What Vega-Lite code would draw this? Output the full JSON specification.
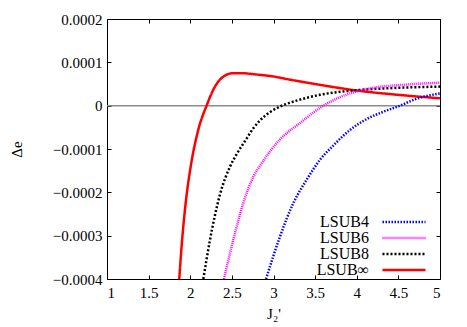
{
  "$schema": "https://vega.github.io/schema/vega-lite/v6.json",
  "width": 333,
  "height": 260,
  "autosize": {"type": "none"},
  "padding": {"left": 107, "top": 19, "right": 27, "bottom": 48},
  "background": "white",
  "config": {
    "font": "Liberation Serif",
    "view": {"stroke": "black", "strokeWidth": 1},
    "axis": {
      "domain": false,
      "grid": false,
      "tickColor": "black",
      "tickSize": -4,
      "tickWidth": 1,
      "labelFont": "Liberation Serif",
      "labelFontSize": 15,
      "labelColor": "black",
      "titleFont": "Liberation Serif",
      "titleFontSize": 15,
      "titleFontWeight": "normal",
      "titleColor": "black"
    },
    "legend": {
      "labelFont": "Liberation Serif",
      "labelFontSize": 16,
      "labelColor": "black"
    }
  },
  "data": {
    "values": [
      {"x": 1.868, "y": -0.0004, "s": "LSUB∞"},
      {"x": 1.896, "y": -0.000325, "s": "LSUB∞"},
      {"x": 1.949, "y": -0.000218, "s": "LSUB∞"},
      {"x": 2.005, "y": -0.000141, "s": "LSUB∞"},
      {"x": 2.096, "y": -0.000056, "s": "LSUB∞"},
      {"x": 2.196, "y": 0.0, "s": "LSUB∞"},
      {"x": 2.297, "y": 0.000044, "s": "LSUB∞"},
      {"x": 2.397, "y": 0.000067, "s": "LSUB∞"},
      {"x": 2.517, "y": 0.000075, "s": "LSUB∞"},
      {"x": 2.6, "y": 0.000075, "s": "LSUB∞"},
      {"x": 2.838, "y": 0.000071, "s": "LSUB∞"},
      {"x": 2.958, "y": 0.0000685, "s": "LSUB∞"},
      {"x": 3.2, "y": 0.00006, "s": "LSUB∞"},
      {"x": 3.559, "y": 0.000048, "s": "LSUB∞"},
      {"x": 4.039, "y": 0.000034, "s": "LSUB∞"},
      {"x": 4.44, "y": 0.000026, "s": "LSUB∞"},
      {"x": 5.0, "y": 0.000017, "s": "LSUB∞"},

      {"x": 2.157, "y": -0.0004, "s": "LSUB8"},
      {"x": 2.237, "y": -0.00031, "s": "LSUB8"},
      {"x": 2.357, "y": -0.000205, "s": "LSUB8"},
      {"x": 2.477, "y": -0.000141, "s": "LSUB8"},
      {"x": 2.557, "y": -0.000112, "s": "LSUB8"},
      {"x": 2.677, "y": -0.000076, "s": "LSUB8"},
      {"x": 2.758, "y": -0.000052, "s": "LSUB8"},
      {"x": 2.838, "y": -0.000034, "s": "LSUB8"},
      {"x": 2.958, "y": -0.000015, "s": "LSUB8"},
      {"x": 3.078, "y": -0.000002, "s": "LSUB8"},
      {"x": 3.2, "y": 0.000007, "s": "LSUB8"},
      {"x": 3.318, "y": 0.000014, "s": "LSUB8"},
      {"x": 3.558, "y": 0.000025, "s": "LSUB8"},
      {"x": 3.958, "y": 0.000035, "s": "LSUB8"},
      {"x": 4.36, "y": 0.00004, "s": "LSUB8"},
      {"x": 5.0, "y": 0.000044, "s": "LSUB8"},

      {"x": 2.405, "y": -0.0004, "s": "LSUB6"},
      {"x": 2.517, "y": -0.00031, "s": "LSUB6"},
      {"x": 2.637, "y": -0.000225, "s": "LSUB6"},
      {"x": 2.758, "y": -0.000164, "s": "LSUB6"},
      {"x": 2.858, "y": -0.000133, "s": "LSUB6"},
      {"x": 3.078, "y": -0.000078, "s": "LSUB6"},
      {"x": 3.318, "y": -0.00004, "s": "LSUB6"},
      {"x": 3.558, "y": -0.000005, "s": "LSUB6"},
      {"x": 3.78, "y": 0.000018, "s": "LSUB6"},
      {"x": 4.159, "y": 0.00004, "s": "LSUB6"},
      {"x": 4.56, "y": 0.000048, "s": "LSUB6"},
      {"x": 5.0, "y": 0.000053, "s": "LSUB6"},

      {"x": 2.91, "y": -0.0004, "s": "LSUB4"},
      {"x": 3.078, "y": -0.000302, "s": "LSUB4"},
      {"x": 3.238, "y": -0.000225, "s": "LSUB4"},
      {"x": 3.398, "y": -0.000171, "s": "LSUB4"},
      {"x": 3.558, "y": -0.000125, "s": "LSUB4"},
      {"x": 3.718, "y": -0.000092, "s": "LSUB4"},
      {"x": 3.919, "y": -0.000056, "s": "LSUB4"},
      {"x": 4.119, "y": -0.000031, "s": "LSUB4"},
      {"x": 4.32, "y": -0.000014, "s": "LSUB4"},
      {"x": 4.52, "y": 0.0, "s": "LSUB4"},
      {"x": 4.72, "y": 0.000016, "s": "LSUB4"},
      {"x": 5.0, "y": 0.000028, "s": "LSUB4"}
    ]
  },
  "layer": [
    {
      "data": {"values": [{"a": 1, "b": 5, "z": 0}]},
      "mark": {"type": "rule", "color": "#8c8c8c", "strokeWidth": 1.5},
      "encoding": {
        "x": {"field": "a", "type": "quantitative", "scale": {"domain": [1, 5]},
              "axis": {"orient": "top", "labels": false, "title": null, "values": [1, 1.5, 2, 2.5, 3, 3.5, 4, 4.5, 5]}},
        "x2": {"field": "b"},
        "y": {"field": "z", "type": "quantitative", "scale": {"domain": [-0.0004, 0.0002]},
              "axis": {"orient": "right", "labels": false, "title": null, "values": [-0.0004, -0.0003, -0.0002, -0.0001, 0, 0.0001, 0.0002]}}
      }
    },
    {
      "mark": {"type": "line", "strokeWidth": 2.5, "clip": true, "interpolate": "monotone"},
      "encoding": {
        "x": {"field": "x", "type": "quantitative", "scale": {"domain": [1, 5]},
              "axis": {"orient": "bottom", "title": "J₂'", "values": [1, 1.5, 2, 2.5, 3, 3.5, 4, 4.5, 5], "format": ".1~f", "labelPadding": 10, "titlePadding": 6}},
        "y": {"field": "y", "type": "quantitative", "scale": {"domain": [-0.0004, 0.0002]},
              "axis": {"orient": "left", "title": "Δe", "values": [-0.0004, -0.0003, -0.0002, -0.0001, 0, 0.0001, 0.0002], "format": ".4~f", "labelPadding": 9, "titlePadding": 28}},
        "color": {"field": "s", "type": "nominal",
                  "scale": {"domain": ["LSUB4", "LSUB6", "LSUB8", "LSUB∞"], "range": ["#0000ff", "#ff00ff", "#000000", "#ff0000"]},
                  "legend": {"title": null, "orient": "none", "legendX": 289, "legendY": 195, "symbolType": "M-5,0H5", "symbolSize": 74, "symbolStrokeWidth": 2.5, "labelAlign": "right", "labelOffset": -43, "rowPadding": 0, "padding": 0}},
        "strokeDash": {"field": "s", "type": "nominal",
                       "scale": {"domain": ["LSUB4", "LSUB6", "LSUB8", "LSUB∞"], "range": [[1.5, 1.5], [1, 1], [2, 2], [1, 0]]},
                       "legend": {"title": null, "orient": "none", "legendX": 289, "legendY": 195, "symbolType": "M-5,0H5", "symbolSize": 74, "symbolStrokeWidth": 2.5, "labelAlign": "right", "labelOffset": -43, "rowPadding": 0, "padding": 0}}
      }
    }
  ],
  "resolve": {"axis": {"x": "independent", "y": "independent"}}
}
